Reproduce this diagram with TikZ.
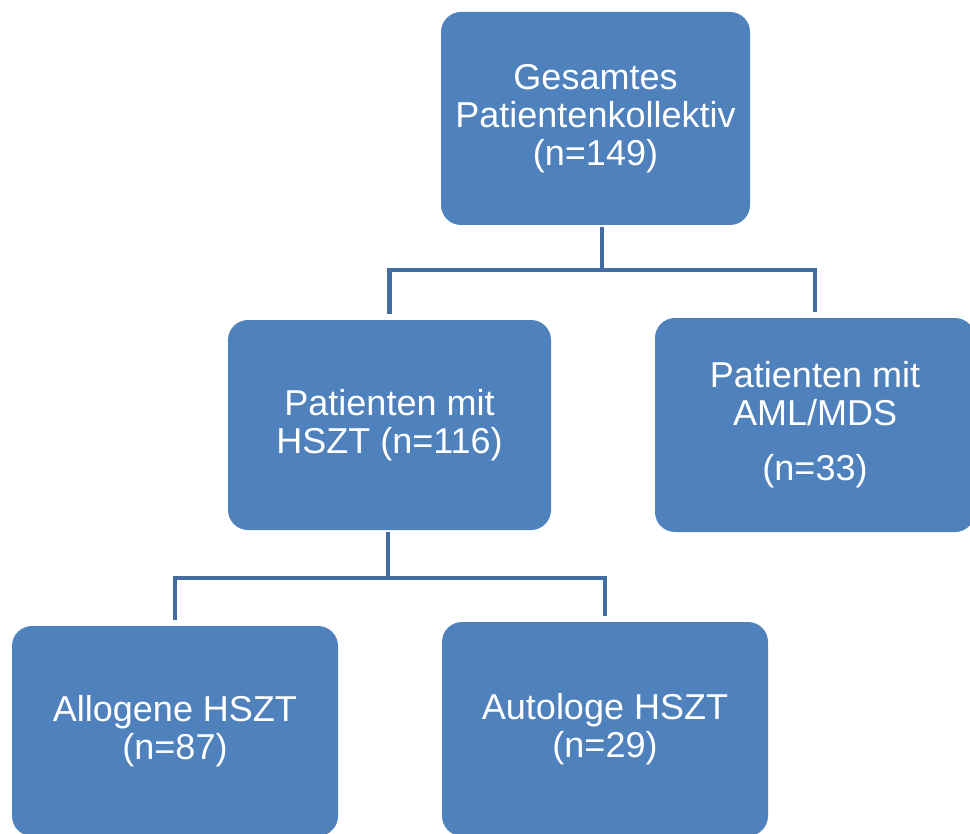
\documentclass[tikz,border=0pt]{standalone}
\usepackage{fontspec}
\setmainfont{Liberation Sans}
\usetikzlibrary{calc}
\definecolor{boxblue}{RGB}{79,129,189}
\definecolor{lineblue}{RGB}{66,108,162}
\tikzset{
	box/.style={fill=boxblue, rounded corners=15pt, inner sep=0pt, text=white, align=center,
		font=\fontsize{27pt}{28.5pt}\selectfont},
	conn/.style={draw=lineblue, line width=3.7pt, shorten <=1.5pt, shorten >=4pt}
}

\begin{document}
\begin{tikzpicture}[x=0.75pt, y=-0.75pt]
				\useasboundingbox (0, 0) rectangle (970, 834);
				
				\node[box, minimum width=309*0.75pt, minimum height=213*0.75pt] (gesamt) at (595.5, 118.5) {Gesamtes\\Patientenkollektiv\\(n=149)};
				\node[box, minimum width=323*0.75pt, minimum height=210*0.75pt] (hszt) at (389.5, 425) {Patienten mit\\HSZT (n=116)};
				\node[box, minimum width=320*0.75pt, minimum height=214*0.75pt] (amlmds) at (815, 425) {Patienten mit\\AML/MDS\\[13pt](n=33)};
				\node[box, minimum width=326*0.75pt, minimum height=210*0.75pt] (allogen) at (175, 731) {Allogene HSZT\\(n=87)};
				\node[box, minimum width=326*0.75pt, minimum height=214*0.75pt] (autolog) at (605, 729) {Autologe HSZT\\(n=29)};
				
				\coordinate (split1) at (602, 270);
				\coordinate (split2) at (388, 578);
				
				\draw[conn, shorten >=0pt] (gesamt.south -| split1) -- (split1);
				\draw[conn, shorten <=0pt] (split1) -| (hszt.north);
				\draw[conn, shorten <=0pt] (split1) -| (amlmds.north);
				
				\draw[conn, shorten >=0pt] (hszt.south -| split2) -- (split2);
				\draw[conn, shorten <=0pt] (split2) -| (allogen.north);
				\draw[conn, shorten <=0pt] (split2) -| (autolog.north);
\end{tikzpicture}
\end{document}
